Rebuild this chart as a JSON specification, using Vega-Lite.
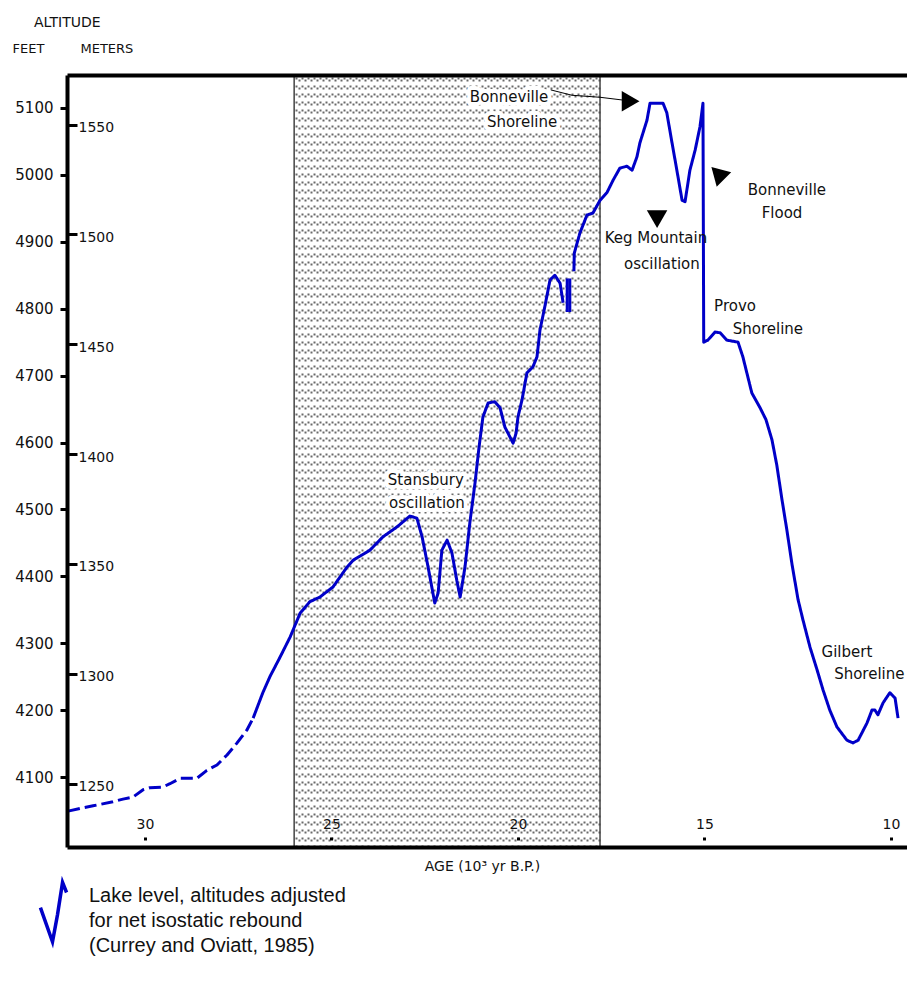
{
  "$schema": "https://vega.github.io/schema/vega-lite/v6.json",
  "width": 840,
  "height": 772,
  "autosize": {"type": "none"},
  "padding": {"left": 67, "top": 75, "right": 0, "bottom": 144},
  "background": "white",
  "title": {"text": "ALTITUDE", "anchor": "start", "frame": "group", "dx": -33, "offset": 12, "fontSize": 14, "fontWeight": "normal", "font": "DejaVu Sans", "color": "#111"},
  "config": {
    "view": {"stroke": null},
    "font": "DejaVu Sans",
    "axis": {"grid": false, "labelFont": "DejaVu Sans", "titleFont": "DejaVu Sans", "labelColor": "#111", "titleColor": "#111", "tickColor": "black", "domainColor": "black", "titleFontWeight": "normal"}
  },
  "datasets": {
    "lake": [
      {"age": 32.06, "ft": 4049, "seg": "A", "kind": "dashed"},
      {"age": 31.66, "ft": 4054, "seg": "A", "kind": "dashed"},
      {"age": 31.39, "ft": 4057, "seg": "A", "kind": "dashed"},
      {"age": 30.86, "ft": 4063, "seg": "A", "kind": "dashed"},
      {"age": 30.59, "ft": 4067, "seg": "A", "kind": "dashed"},
      {"age": 30.32, "ft": 4070, "seg": "A", "kind": "dashed"},
      {"age": 30.05, "ft": 4081, "seg": "A", "kind": "dashed"},
      {"age": 29.87, "ft": 4084, "seg": "A", "kind": "dashed"},
      {"age": 29.52, "ft": 4085, "seg": "A", "kind": "dashed"},
      {"age": 29.33, "ft": 4090, "seg": "A", "kind": "dashed"},
      {"age": 29.06, "ft": 4098, "seg": "A", "kind": "dashed"},
      {"age": 28.61, "ft": 4098, "seg": "A", "kind": "dashed"},
      {"age": 28.34, "ft": 4110, "seg": "A", "kind": "dashed"},
      {"age": 28.07, "ft": 4118, "seg": "A", "kind": "dashed"},
      {"age": 27.80, "ft": 4133, "seg": "A", "kind": "dashed"},
      {"age": 27.53, "ft": 4151, "seg": "A", "kind": "dashed"},
      {"age": 27.27, "ft": 4170, "seg": "A", "kind": "dashed"},
      {"age": 27.10, "ft": 4188, "seg": "A", "kind": "dashed"},
      {"age": 27.10, "ft": 4188, "seg": "B", "kind": "solid"},
      {"age": 26.84, "ft": 4226, "seg": "B", "kind": "solid"},
      {"age": 26.65, "ft": 4250, "seg": "B", "kind": "solid"},
      {"age": 26.38, "ft": 4279, "seg": "B", "kind": "solid"},
      {"age": 26.11, "ft": 4309, "seg": "B", "kind": "solid"},
      {"age": 25.84, "ft": 4345, "seg": "B", "kind": "solid"},
      {"age": 25.58, "ft": 4362, "seg": "B", "kind": "solid"},
      {"age": 25.31, "ft": 4369, "seg": "B", "kind": "solid"},
      {"age": 24.96, "ft": 4384, "seg": "B", "kind": "solid"},
      {"age": 24.58, "ft": 4414, "seg": "B", "kind": "solid"},
      {"age": 24.42, "ft": 4424, "seg": "B", "kind": "solid"},
      {"age": 23.97, "ft": 4439, "seg": "B", "kind": "solid"},
      {"age": 23.62, "ft": 4459, "seg": "B", "kind": "solid"},
      {"age": 23.24, "ft": 4474, "seg": "B", "kind": "solid"},
      {"age": 22.90, "ft": 4490, "seg": "B", "kind": "solid"},
      {"age": 22.71, "ft": 4487, "seg": "B", "kind": "solid"},
      {"age": 22.57, "ft": 4459, "seg": "B", "kind": "solid"},
      {"age": 22.41, "ft": 4414, "seg": "B", "kind": "solid"},
      {"age": 22.23, "ft": 4360, "seg": "B", "kind": "solid"},
      {"age": 22.14, "ft": 4375, "seg": "B", "kind": "solid"},
      {"age": 22.04, "ft": 4439, "seg": "B", "kind": "solid"},
      {"age": 21.90, "ft": 4454, "seg": "B", "kind": "solid"},
      {"age": 21.77, "ft": 4435, "seg": "B", "kind": "solid"},
      {"age": 21.64, "ft": 4394, "seg": "B", "kind": "solid"},
      {"age": 21.55, "ft": 4369, "seg": "B", "kind": "solid"},
      {"age": 21.42, "ft": 4414, "seg": "B", "kind": "solid"},
      {"age": 21.29, "ft": 4480, "seg": "B", "kind": "solid"},
      {"age": 21.15, "ft": 4540, "seg": "B", "kind": "solid"},
      {"age": 21.05, "ft": 4590, "seg": "B", "kind": "solid"},
      {"age": 20.94, "ft": 4638, "seg": "B", "kind": "solid"},
      {"age": 20.80, "ft": 4659, "seg": "B", "kind": "solid"},
      {"age": 20.62, "ft": 4661, "seg": "B", "kind": "solid"},
      {"age": 20.48, "ft": 4652, "seg": "B", "kind": "solid"},
      {"age": 20.35, "ft": 4623, "seg": "B", "kind": "solid"},
      {"age": 20.13, "ft": 4599, "seg": "B", "kind": "solid"},
      {"age": 20.05, "ft": 4614, "seg": "B", "kind": "solid"},
      {"age": 20.00, "ft": 4638, "seg": "B", "kind": "solid"},
      {"age": 19.89, "ft": 4664, "seg": "B", "kind": "solid"},
      {"age": 19.76, "ft": 4704, "seg": "B", "kind": "solid"},
      {"age": 19.60, "ft": 4713, "seg": "B", "kind": "solid"},
      {"age": 19.49, "ft": 4728, "seg": "B", "kind": "solid"},
      {"age": 19.41, "ft": 4768, "seg": "B", "kind": "solid"},
      {"age": 19.28, "ft": 4803, "seg": "B", "kind": "solid"},
      {"age": 19.14, "ft": 4843, "seg": "B", "kind": "solid"},
      {"age": 19.01, "ft": 4850, "seg": "B", "kind": "solid"},
      {"age": 18.87, "ft": 4838, "seg": "B", "kind": "solid"},
      {"age": 18.79, "ft": 4809, "seg": "B", "kind": "solid"},
      {"age": 18.68, "ft": 4845, "seg": "C1", "kind": "solid"},
      {"age": 18.68, "ft": 4795, "seg": "C1", "kind": "solid"},
      {"age": 18.61, "ft": 4845, "seg": "C2", "kind": "solid"},
      {"age": 18.61, "ft": 4795, "seg": "C2", "kind": "solid"},
      {"age": 18.50, "ft": 4856, "seg": "D", "kind": "solid"},
      {"age": 18.49, "ft": 4883, "seg": "D", "kind": "solid"},
      {"age": 18.34, "ft": 4913, "seg": "D", "kind": "solid"},
      {"age": 18.15, "ft": 4940, "seg": "D", "kind": "solid"},
      {"age": 17.99, "ft": 4943, "seg": "D", "kind": "solid"},
      {"age": 17.80, "ft": 4962, "seg": "D", "kind": "solid"},
      {"age": 17.61, "ft": 4974, "seg": "D", "kind": "solid"},
      {"age": 17.45, "ft": 4992, "seg": "D", "kind": "solid"},
      {"age": 17.27, "ft": 5010, "seg": "D", "kind": "solid"},
      {"age": 17.08, "ft": 5013, "seg": "D", "kind": "solid"},
      {"age": 16.94, "ft": 5007, "seg": "D", "kind": "solid"},
      {"age": 16.81, "ft": 5027, "seg": "D", "kind": "solid"},
      {"age": 16.73, "ft": 5048, "seg": "D", "kind": "solid"},
      {"age": 16.54, "ft": 5082, "seg": "D", "kind": "solid"},
      {"age": 16.46, "ft": 5107, "seg": "D", "kind": "solid"},
      {"age": 16.11, "ft": 5107, "seg": "D", "kind": "solid"},
      {"age": 16.01, "ft": 5093, "seg": "D", "kind": "solid"},
      {"age": 15.87, "ft": 5048, "seg": "D", "kind": "solid"},
      {"age": 15.74, "ft": 5007, "seg": "D", "kind": "solid"},
      {"age": 15.60, "ft": 4962, "seg": "D", "kind": "solid"},
      {"age": 15.52, "ft": 4960, "seg": "D", "kind": "solid"},
      {"age": 15.39, "ft": 5007, "seg": "D", "kind": "solid"},
      {"age": 15.25, "ft": 5037, "seg": "D", "kind": "solid"},
      {"age": 15.12, "ft": 5072, "seg": "D", "kind": "solid"},
      {"age": 15.04, "ft": 5107, "seg": "D", "kind": "solid"},
      {"age": 15.02, "ft": 4750, "seg": "D", "kind": "solid"},
      {"age": 14.91, "ft": 4753, "seg": "D", "kind": "solid"},
      {"age": 14.72, "ft": 4765, "seg": "D", "kind": "solid"},
      {"age": 14.58, "ft": 4764, "seg": "D", "kind": "solid"},
      {"age": 14.40, "ft": 4753, "seg": "D", "kind": "solid"},
      {"age": 14.10, "ft": 4750, "seg": "D", "kind": "solid"},
      {"age": 13.97, "ft": 4728, "seg": "D", "kind": "solid"},
      {"age": 13.73, "ft": 4674, "seg": "D", "kind": "solid"},
      {"age": 13.51, "ft": 4652, "seg": "D", "kind": "solid"},
      {"age": 13.35, "ft": 4634, "seg": "D", "kind": "solid"},
      {"age": 13.19, "ft": 4604, "seg": "D", "kind": "solid"},
      {"age": 13.06, "ft": 4566, "seg": "D", "kind": "solid"},
      {"age": 12.92, "ft": 4514, "seg": "D", "kind": "solid"},
      {"age": 12.79, "ft": 4469, "seg": "D", "kind": "solid"},
      {"age": 12.65, "ft": 4417, "seg": "D", "kind": "solid"},
      {"age": 12.49, "ft": 4365, "seg": "D", "kind": "solid"},
      {"age": 12.36, "ft": 4335, "seg": "D", "kind": "solid"},
      {"age": 12.17, "ft": 4294, "seg": "D", "kind": "solid"},
      {"age": 11.98, "ft": 4260, "seg": "D", "kind": "solid"},
      {"age": 11.82, "ft": 4230, "seg": "D", "kind": "solid"},
      {"age": 11.64, "ft": 4200, "seg": "D", "kind": "solid"},
      {"age": 11.45, "ft": 4175, "seg": "D", "kind": "solid"},
      {"age": 11.18, "ft": 4155, "seg": "D", "kind": "solid"},
      {"age": 11.02, "ft": 4151, "seg": "D", "kind": "solid"},
      {"age": 10.88, "ft": 4155, "seg": "D", "kind": "solid"},
      {"age": 10.64, "ft": 4181, "seg": "D", "kind": "solid"},
      {"age": 10.51, "ft": 4200, "seg": "D", "kind": "solid"},
      {"age": 10.43, "ft": 4200, "seg": "D", "kind": "solid"},
      {"age": 10.35, "ft": 4193, "seg": "D", "kind": "solid"},
      {"age": 10.21, "ft": 4211, "seg": "D", "kind": "solid"},
      {"age": 10.03, "ft": 4226, "seg": "D", "kind": "solid"},
      {"age": 9.89, "ft": 4218, "seg": "D", "kind": "solid"},
      {"age": 9.81, "ft": 4188, "seg": "D", "kind": "solid"}
    ],
    "shade": [{"start": 26.0, "end": 17.8}],
    "notes": [
      {"age": 20.24, "ft": 5116, "text": "Bonneville"},
      {"age": 19.89, "ft": 5079, "text": "Shoreline"},
      {"age": 16.30, "ft": 4906, "text": "Keg Mountain"},
      {"age": 16.14, "ft": 4867, "text": "oscillation"},
      {"age": 12.79, "ft": 4977, "text": "Bonneville"},
      {"age": 12.92, "ft": 4943, "text": "Flood"},
      {"age": 14.18, "ft": 4804, "text": "Provo"},
      {"age": 13.30, "ft": 4770, "text": "Shoreline"},
      {"age": 22.47, "ft": 4544, "text": "Stansbury"},
      {"age": 22.44, "ft": 4510, "text": "oscillation"},
      {"age": 11.18, "ft": 4287, "text": "Gilbert"},
      {"age": 10.58, "ft": 4254, "text": "Shoreline"}
    ],
    "shaft": [
      {"age": 19.12, "ft": 5127},
      {"age": 18.55, "ft": 5119},
      {"age": 17.80, "ft": 5116},
      {"age": 17.21, "ft": 5112}
    ],
    "heads": [
      {"age": 16.98, "ft": 5110, "dir": "right"},
      {"age": 16.27, "ft": 4934, "dir": "down"},
      {"age": 14.61, "ft": 4995, "dir": "flood"}
    ]
  },
  "layer": [
    {
      "data": {"values": [{}]},
      "mark": {"type": "point", "opacity": 0},
      "encoding": {
        "x": {"datum": 20, "type": "quantitative", "scale": {"domain": [9.57, 32.09], "reverse": true, "nice": false, "zero": false},
          "axis": {"orient": "bottom", "zindex": 0, "grid": true, "gridColor": "#6a6a6a", "gridOpacity": 1, "gridWidth": 2, "gridDash": [2, 6], "labels": false, "ticks": false, "domain": false, "title": null,
            "values": [25.951, 25.790, 25.629, 25.468, 25.308, 25.147, 24.986, 24.825, 24.664, 24.503, 24.342, 24.182, 24.021, 23.860, 23.699, 23.538, 23.377, 23.216, 23.056, 22.895, 22.734, 22.573, 22.412, 22.251, 22.090, 21.930, 21.769, 21.608, 21.447, 21.286, 21.125, 20.964, 20.803, 20.643, 20.482, 20.321, 20.160, 19.999, 19.838, 19.677, 19.517, 19.356, 19.195, 19.034, 18.873, 18.712, 18.551, 18.391, 18.230, 18.069, 17.908]}}
      }
    },
    {
      "data": {"values": [{}]},
      "mark": {"type": "point", "opacity": 0},
      "encoding": {
        "x": {"datum": 20, "type": "quantitative", "scale": {"domain": [9.57, 32.09], "reverse": true, "nice": false, "zero": false},
          "axis": {"orient": "top", "zindex": 0, "grid": true, "gridColor": "#6a6a6a", "gridOpacity": 1, "gridWidth": 2, "gridDash": [2, 6], "gridDashOffset": 4, "labels": false, "ticks": false, "domain": false, "title": null,
            "values": [25.871, 25.710, 25.549, 25.388, 25.227, 25.066, 24.905, 24.745, 24.584, 24.423, 24.262, 24.101, 23.940, 23.779, 23.619, 23.458, 23.297, 23.136, 22.975, 22.814, 22.653, 22.493, 22.332, 22.171, 22.010, 21.849, 21.688, 21.527, 21.367, 21.206, 21.045, 20.884, 20.723, 20.562, 20.401, 20.241, 20.080, 19.919, 19.758, 19.597, 19.436, 19.275, 19.115, 18.954, 18.793, 18.632, 18.471, 18.310, 18.149, 17.989, 17.828]}}
      }
    },
    {
      "layer": [
        {
          "data": {"name": "shade"},
          "mark": {"type": "rect", "fill": null, "stroke": "#444444", "strokeWidth": 1.5},
          "encoding": {
            "x": {"field": "start", "type": "quantitative", "scale": {"domain": [9.57, 32.09], "reverse": true, "nice": false, "zero": false}},
            "x2": {"field": "end"}
          }
        },
        {
          "data": {"name": "lake"},
          "mark": {"type": "line", "strokeWidth": 3, "strokeJoin": "round"},
          "encoding": {
            "x": {"field": "age", "type": "quantitative",
              "scale": {"domain": [9.57, 32.09], "reverse": true, "nice": false, "zero": false},
              "axis": {"orient": "bottom", "zindex": 3, "values": [10, 15, 20, 25, 30], "format": "d", "tickSize": -12, "tickWidth": 3, "tickDash": [0, 7, 3, 30], "labelPadding": -11, "labelBaseline": "middle", "labelFontSize": 14, "labelFlush": false, "labelOverlap": false, "domainWidth": 4, "title": "AGE (10³ yr B.P.)", "titleFontSize": 14, "titleX": 415, "titleY": 19, "titleBaseline": "middle", "titleAlign": "center"}},
            "y": {"field": "ft", "type": "quantitative",
              "scale": {"domain": [3995.4, 5149.3], "nice": false, "zero": false},
              "axis": {"zindex": 3, "values": [4100, 4200, 4300, 4400, 4500, 4600, 4700, 4800, 4900, 5000, 5100], "format": "d", "tickSize": 7, "tickWidth": 3, "labelPadding": 7, "labelFontSize": 15, "domainWidth": 4, "title": "FEET", "titleAngle": 0, "titleAlign": "left", "titleBaseline": "middle", "titleX": -55, "titleY": -27, "titleFontSize": 13}},
            "detail": {"field": "seg"},
            "strokeDash": {"field": "kind", "type": "nominal", "scale": {"domain": ["dashed", "solid"], "range": [[12, 5], [1, 0]]}, "legend": null},
            "color": {"datum": "Lake level", "type": "nominal", "scale": {"range": ["#0000c8"]},
              "legend": {"orient": "none", "legendX": -49, "legendY": 785, "title": null, "padding": 0,
                "symbolType": "M-0.39,0.36L-0.03,1.38L0.12,0.57L0.27,-0.39L0.39,-0.09",
                "symbolSize": 4489, "symbolStrokeWidth": 3.5, "symbolFillColor": "transparent",
                "labelExpr": "['Lake level, altitudes adjusted', 'for net isostatic rebound', '(Currey and Oviatt, 1985)']",
                "labelFont": "Liberation Sans", "labelFontSize": 20, "labelColor": "#111", "labelLimit": 0, "labelOffset": 0,
                "encode": {"labels": {"update": {"lineHeight": {"value": 25}}}}}},
            "order": {"value": null}
          }
        },
        {
          "data": {"name": "shaft"},
          "mark": {"type": "line", "color": "black", "strokeWidth": 1},
          "encoding": {
            "x": {"field": "age", "type": "quantitative", "scale": {"domain": [9.57, 32.09], "reverse": true, "nice": false, "zero": false}},
            "y": {"field": "ft", "type": "quantitative", "scale": {"domain": [3995.4, 5149.3], "nice": false, "zero": false}},
            "order": {"value": null}
          }
        },
        {
          "data": {"name": "heads"},
          "mark": {"type": "point", "filled": true, "color": "black", "opacity": 1, "size": 420},
          "encoding": {
            "x": {"field": "age", "type": "quantitative", "scale": {"domain": [9.57, 32.09], "reverse": true, "nice": false, "zero": false}},
            "y": {"field": "ft", "type": "quantitative", "scale": {"domain": [3995.4, 5149.3], "nice": false, "zero": false}},
            "shape": {"field": "dir", "type": "nominal", "scale": {"domain": ["right", "down", "flood"], "range": ["triangle-right", "triangle-down", "triangle-down"]}, "legend": null},
            "angle": {"condition": {"test": "datum.dir === 'flood'", "value": 15}, "value": 0}
          }
        },
        {
          "data": {"name": "notes"},
          "transform": [{"filter": "datum.age > 17.8 && datum.age < 26"}],
          "mark": {"type": "text", "font": "DejaVu Sans", "fontSize": 15, "fill": "white", "stroke": "white", "strokeWidth": 8, "strokeJoin": "round", "clip": true},
          "encoding": {
            "x": {"field": "age", "type": "quantitative", "scale": {"domain": [9.57, 32.09], "reverse": true, "nice": false, "zero": false}},
            "y": {"field": "ft", "type": "quantitative", "scale": {"domain": [3995.4, 5149.3], "nice": false, "zero": false}},
            "text": {"field": "text"}
          }
        },
        {
          "data": {"name": "notes"},
          "mark": {"type": "text", "font": "DejaVu Sans", "fontSize": 15, "color": "#111", "clip": true},
          "encoding": {
            "x": {"field": "age", "type": "quantitative", "scale": {"domain": [9.57, 32.09], "reverse": true, "nice": false, "zero": false}},
            "y": {"field": "ft", "type": "quantitative", "scale": {"domain": [3995.4, 5149.3], "nice": false, "zero": false}},
            "text": {"field": "text"}
          }
        }
      ]
    },
    {
      "data": {"values": [{}]},
      "mark": {"type": "point", "opacity": 0},
      "encoding": {
        "x": {"datum": 20, "type": "quantitative", "scale": {"domain": [9.57, 32.09], "reverse": true, "nice": false, "zero": false},
          "axis": {"zindex": 3, "orient": "top", "labels": false, "ticks": false, "domainWidth": 4, "title": null}},
        "y": {"datum": 1400, "type": "quantitative", "scale": {"domain": [1221.1, 1572.6], "nice": false, "zero": false},
          "axis": {"zindex": 3, "orient": "left", "values": [1250, 1300, 1350, 1400, 1450, 1500, 1550], "format": "d", "tickSize": -10, "tickWidth": 3, "labelPadding": -1, "labelAlign": "left", "labelOffset": 3, "labelFontSize": 14, "domain": false, "title": "METERS", "titleAngle": 0, "titleAlign": "left", "titleBaseline": "middle", "titleX": 13, "titleY": -27, "titleFontSize": 13}}
      }
    }
  ],
  "resolve": {"scale": {"y": "independent"}, "axis": {"x": "independent", "y": "independent"}}
}
